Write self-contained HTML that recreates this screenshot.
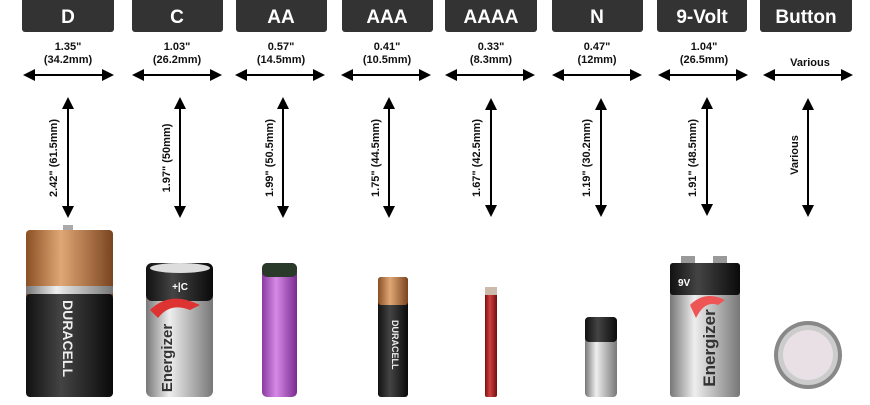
<!DOCTYPE html>
<html><head><meta charset="utf-8"><style>
body{margin:0;background:#fff;width:870px;height:400px;overflow:hidden}
svg text{font-family:"Liberation Sans",Arial,sans-serif;font-weight:bold}
</style></head><body>
<svg width="870" height="400" viewBox="0 0 870 400" xmlns="http://www.w3.org/2000/svg">
<defs>
<marker id="ah" markerWidth="6" markerHeight="6" refX="3" refY="3" orient="auto-start-reverse" markerUnits="strokeWidth">
<path d="M0,0 L6,3 L0,6 z" fill="#000"/></marker>
<linearGradient id="cu" x1="0" x2="1"><stop offset="0" stop-color="#8a4f24"/><stop offset=".4" stop-color="#e0a775"/><stop offset="1" stop-color="#7a4420"/></linearGradient>
<linearGradient id="bk" x1="0" x2="1"><stop offset="0" stop-color="#111"/><stop offset=".4" stop-color="#444"/><stop offset="1" stop-color="#0a0a0a"/></linearGradient>
<linearGradient id="sv" x1="0" x2="1"><stop offset="0" stop-color="#777"/><stop offset=".35" stop-color="#eee"/><stop offset="1" stop-color="#777"/></linearGradient>
<linearGradient id="pu" x1="0" x2="1"><stop offset="0" stop-color="#8a3aa0"/><stop offset=".4" stop-color="#d68ae6"/><stop offset="1" stop-color="#7a2a90"/></linearGradient>
<linearGradient id="rd" x1="0" x2="1"><stop offset="0" stop-color="#7a1010"/><stop offset=".4" stop-color="#d04040"/><stop offset="1" stop-color="#701010"/></linearGradient>
</defs>
<g fill="#333">
<rect x="22" y="-4" width="92" height="36" rx="3"/>
<rect x="132" y="-4" width="91" height="36" rx="3"/>
<rect x="236" y="-4" width="91" height="36" rx="3"/>
<rect x="342" y="-4" width="91" height="36" rx="3"/>
<rect x="445" y="-4" width="92" height="36" rx="3"/>
<rect x="552" y="-4" width="91" height="36" rx="3"/>
<rect x="657" y="-4" width="90" height="36" rx="3"/>
<rect x="760" y="-4" width="92" height="36" rx="3"/>
</g>
<g fill="#fff" font-size="19" text-anchor="middle" style="font-weight:normal">
<text x="68" y="23">D</text><text x="177" y="23">C</text><text x="281" y="23">AA</text><text x="387" y="23">AAA</text>
<text x="491" y="23">AAAA</text><text x="597" y="23">N</text><text x="702" y="23">9-Volt</text><text x="806" y="23">Button</text>
</g>
<g font-size="11" text-anchor="middle" fill="#111">
<text x="68" y="50">1.35"</text><text x="68" y="63">(34.2mm)</text>
<text x="177" y="50">1.03"</text><text x="177" y="63">(26.2mm)</text>
<text x="281" y="50">0.57"</text><text x="281" y="63">(14.5mm)</text>
<text x="387" y="50">0.41"</text><text x="387" y="63">(10.5mm)</text>
<text x="491" y="50">0.33"</text><text x="491" y="63">(8.3mm)</text>
<text x="597" y="50">0.47"</text><text x="597" y="63">(12mm)</text>
<text x="704" y="50">1.04"</text><text x="704" y="63">(26.5mm)</text>
<text x="810" y="66">Various</text>
</g>
<g stroke="#000" stroke-width="2" marker-start="url(#ah)" marker-end="url(#ah)">
<line x1="29" y1="75" x2="108" y2="75"/><line x1="138" y1="75" x2="216" y2="75"/>
<line x1="241" y1="75" x2="319" y2="75"/><line x1="347" y1="75" x2="425" y2="75"/>
<line x1="451" y1="75" x2="529" y2="75"/><line x1="558" y1="75" x2="636" y2="75"/>
<line x1="664" y1="75" x2="742" y2="75"/><line x1="769" y1="75" x2="847" y2="75"/>
<line x1="68" y1="103" x2="68" y2="212"/><line x1="180" y1="103" x2="180" y2="212"/>
<line x1="283" y1="103" x2="283" y2="212"/><line x1="389" y1="103" x2="389" y2="212"/>
<line x1="491" y1="104" x2="491" y2="211"/><line x1="601" y1="104" x2="601" y2="211"/>
<line x1="707" y1="103" x2="707" y2="210"/><line x1="808" y1="104" x2="808" y2="211"/>
</g>
<g font-size="11" text-anchor="middle" fill="#111">
<text transform="translate(57,158) rotate(-90)">2.42" (61.5mm)</text>
<text transform="translate(170,158) rotate(-90)">1.97" (50mm)</text>
<text transform="translate(273,158) rotate(-90)">1.99" (50.5mm)</text>
<text transform="translate(379,158) rotate(-90)">1.75" (44.5mm)</text>
<text transform="translate(480,158) rotate(-90)">1.67" (42.5mm)</text>
<text transform="translate(590,158) rotate(-90)">1.19" (30.2mm)</text>
<text transform="translate(696,158) rotate(-90)">1.91" (48.5mm)</text>
<text transform="translate(798,155) rotate(-90)">Various</text>
</g>
<!-- D -->
<rect x="63" y="225" width="10" height="6" fill="#aaa"/>
<rect x="26" y="230" width="87" height="70" rx="4" fill="url(#cu)"/>
<rect x="26" y="286" width="87" height="8" fill="url(#sv)"/>
<rect x="26" y="294" width="87" height="103" rx="4" fill="url(#bk)"/>
<text transform="translate(63,300) rotate(90)" fill="#eee" font-size="14">DURACELL</text>
<!-- C -->
<rect x="146" y="263" width="67" height="134" rx="6" fill="url(#sv)"/>
<rect x="146" y="263" width="67" height="38" rx="6" fill="url(#bk)"/>
<ellipse cx="180" cy="268" rx="30" ry="5" fill="#ddd"/>
<text x="180" y="290" fill="#fff" font-size="10" text-anchor="middle">+|C</text>
<path d="M150 310 Q170 290 200 305 L190 310 Q170 302 158 318z" fill="#d33"/>
<text transform="translate(172,358) rotate(-90)" fill="#333" font-size="15" text-anchor="middle">Energizer</text>
<!-- AA -->
<rect x="262" y="263" width="35" height="134" rx="5" fill="url(#pu)"/>
<rect x="262" y="263" width="35" height="14" rx="5" fill="#2a3a2a"/>
<!-- AAA -->
<rect x="378" y="277" width="30" height="120" rx="3" fill="url(#bk)"/>
<rect x="378" y="277" width="30" height="28" rx="3" fill="url(#cu)"/>
<text transform="translate(392,320) rotate(90)" fill="#eee" font-size="9">DURACELL</text>
<!-- AAAA -->
<rect x="485" y="287" width="12" height="110" rx="2" fill="url(#rd)"/>
<rect x="485" y="287" width="12" height="8" fill="#cba"/>
<!-- N -->
<rect x="585" y="317" width="32" height="80" rx="4" fill="url(#sv)"/>
<rect x="585" y="317" width="32" height="25" rx="4" fill="url(#bk)"/>
<!-- 9V -->
<rect x="681" y="256" width="14" height="10" fill="#999"/><rect x="713" y="256" width="14" height="10" fill="#999"/>
<rect x="670" y="263" width="70" height="134" rx="3" fill="url(#sv)"/>
<rect x="670" y="263" width="70" height="32" rx="3" fill="url(#bk)"/>
<text x="678" y="286" fill="#fff" font-size="10">9V</text>
<path d="M690 305 Q705 290 725 300 L718 305 Q705 300 696 318z" fill="#e55"/>
<text transform="translate(715,348) rotate(-90)" fill="#333" font-size="17" text-anchor="middle">Energizer</text>
<!-- Button -->
<circle cx="808" cy="355" r="34" fill="#888"/>
<circle cx="808" cy="355" r="30" fill="#ccc"/>
<circle cx="808" cy="355" r="25" fill="#e8e0e4"/>
</svg>
</body></html>
